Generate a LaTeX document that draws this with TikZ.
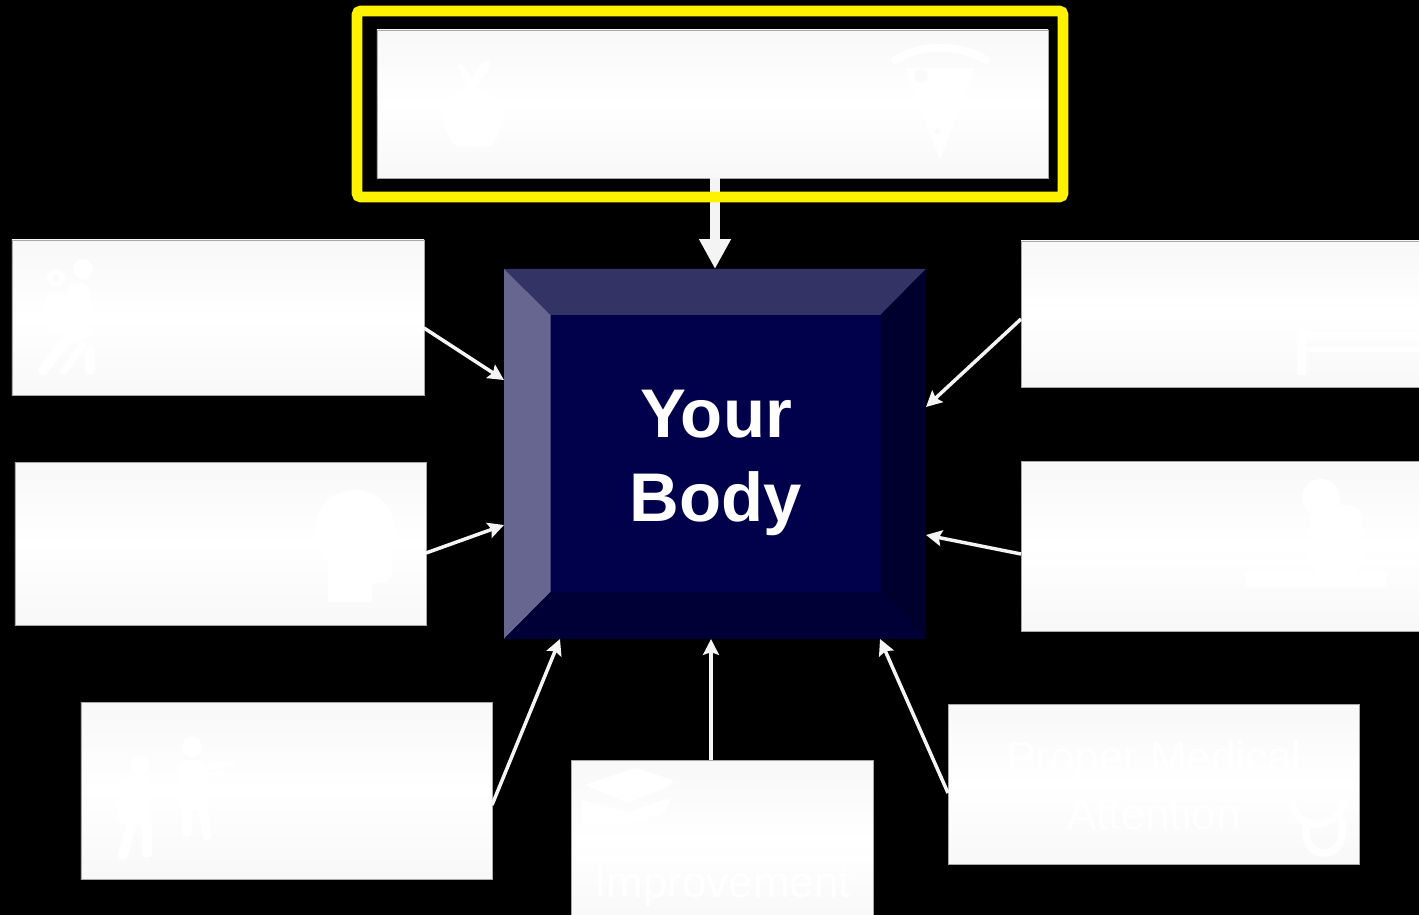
\documentclass[tikz,border=0pt]{standalone}
\usepackage{fontspec}
\setmainfont{Liberation Sans}
\usetikzlibrary{arrows.meta}
\definecolor{panelgrey}{HTML}{F8F8F8}
\definecolor{panelline}{HTML}{A8A8A8}
\definecolor{bodynavy}{HTML}{00004B}
\definecolor{bevtop}{HTML}{333366}
\definecolor{bevleft}{HTML}{666690}
\definecolor{bevright}{HTML}{00002E}
\definecolor{bevbottom}{HTML}{000036}
\definecolor{arrowgrey}{HTML}{F4F4F4}
\definecolor{iconhole}{HTML}{FAFAFA}
\tikzset{
  panel/.style={draw=panelline, line width=0.4pt, top color=panelgrey, bottom color=panelgrey, middle color=white, inner sep=0pt, outer sep=0pt},
  link/.style={arrowgrey, line width=2pt, -{Stealth[length=9pt,width=9pt,inset=1.5pt]}},
  biglink/.style={arrowgrey, line width=5.7pt, -{Triangle[length=17pt,width=17pt]}},
  iconfill/.style={fill=white},
  iconline/.style={draw=white, line cap=round, line width=2mm},
  facetext/.style={white, font=\fontsize{25}{32.3}\selectfont, inner sep=0pt, align=center}
}
\begin{document}
\begin{tikzpicture}[x=0.2mm, y=-0.2mm]
  \clip (0,0) rectangle (1419,915);
  \fill[black] (0,0) rectangle (1419,915);

  % Panels
  \node[panel, minimum width=134.2mm, minimum height=29.6mm] (diet) at (712.5,104) {};
  \node[panel, minimum width=82.4mm, minimum height=31mm] (walk) at (218,317.5) {};
  \node[panel, minimum width=82.2mm, minimum height=32.6mm] (mind) at (220.5,543.5) {};
  \node[panel, minimum width=82.2mm, minimum height=35.4mm] (people) at (286.5,790.5) {};
  \node[panel, minimum width=60.4mm, minimum height=33mm] (study) at (722,842.5) {};
  \node[panel, minimum width=82.2mm, minimum height=32mm] (medic) at (1153.5,784) {};
  \node[panel, minimum width=80.8mm, minimum height=34mm] (rest) at (1223,546) {};
  \node[panel, minimum width=80.8mm, minimum height=29.2mm] (sleep) at (1223,314) {};

  % Icons
  \fill[iconfill] (473,118) ellipse (30 and 29);
  \fill[iconfill] (462,134) circle (13);
  \fill[iconfill] (485,134) circle (13);
  \fill[iconfill] (457,66) -- (461,63) -- (472,78) -- (482,63) -- (490,60) -- (488,72) -- (474,90) -- (468,90) -- cycle;
  \draw[iconline, line width=1.6mm] (895,60) .. controls (920,44) and (960,44) .. (986,60);
  \fill[iconfill] (905,68) -- (975,68) -- (940,160) -- cycle;
  \fill[iconhole] (921,76) circle (7);
  \fill[iconhole] (937,131) circle (3);

  \fill[iconfill] (83,269) circle (10);
  \fill[iconfill] (56,278) circle (9);
  \fill[iconhole] (56,278) circle (3);
  \fill[iconfill, rounded corners=5] (68,283) rectangle (90,340);
  \fill[iconfill, rounded corners=5] (46,292) rectangle (68,335);
  \draw[iconline] (68,338) -- (43,370);
  \draw[iconline, line width=1.4mm] (83,345) -- (64,371);
  \draw[iconline] (90,350) -- (90,370);

  \fill[iconfill] (355,530) circle (40);
  \fill[iconfill, rounded corners=6] (328,540) rectangle (392,583);
  \fill[iconfill] (328,540) rectangle (372,602);

  \fill[iconfill] (192,747) circle (10);
  \fill[iconfill] (140,765) circle (10);
  \fill[iconfill, rounded corners=5] (178,760) rectangle (207,810);
  \fill[iconfill, rounded corners=5] (118,777) rectangle (150,825);
  \draw[iconline] (187,800) -- (187,832);
  \draw[iconline] (202,800) -- (207,835);
  \draw[iconline, line width=1.2mm] (205,768) -- (233,763);
  \draw[iconline] (131,825) -- (123,855);
  \draw[iconline] (147,825) -- (147,853);

  \fill[iconfill] (635,768) -- (673,780) -- (670,786) -- (628,803) -- (585,785) -- cycle;
  \fill[iconfill] (582,800) -- (628,812) -- (672,797) -- (665,812) -- (628,826) -- (582,823) -- cycle;

  \draw[iconline, line width=1.5mm] (1292,800) .. controls (1295,832) and (1335,832) .. (1345,802);
  \draw[iconline, line width=1.5mm] (1306,826) -- (1306,835) arc[start angle=180, end angle=0, radius=18] -- (1342,820);

  \fill[iconfill] (1321,498) circle (19);
  \fill[iconfill, rounded corners=8] (1310,505) rectangle (1362,575);
  \fill[iconfill] (1245,573) rectangle (1387,587);

  \fill[iconfill] (1297,330) rectangle (1306,375);
  \fill[iconfill] (1297,332) rectangle (1419,338);
  \fill[iconfill] (1297,347) rectangle (1419,352);

  % Centre block
  \node[fill=bodynavy, inner sep=0pt, outer sep=0pt, minimum width=84.4mm, minimum height=74mm] (body) at (715,454) {};
  \node[fill=bodynavy, inner sep=0pt, outer sep=0pt, minimum width=66mm, minimum height=55.4mm] (face) at (715.5,453.5) {};
  \fill[bevtop] (body.north west) -- (body.north east) -- (face.north east) -- (face.north west) -- cycle;
  \fill[bevleft] (body.north west) -- (face.north west) -- (face.south west) -- (body.south west) -- cycle;
  \fill[bevright] (body.north east) -- (face.north east) -- (face.south east) -- (body.south east) -- cycle;
  \fill[bevbottom] (body.south west) -- (face.south west) -- (face.south east) -- (body.south east) -- cycle;
  \node[white, inner sep=0pt, align=center, font=\fontsize{39.2}{47.6}\selectfont\bfseries] (bodytext) at (716,463) {Your\\Body};

  % Texts in the panels
  \node[facetext, anchor=base] (studytext) at (722.5,897) {Improvement};
  \node[facetext] (medictext) at (1154,785) {Proper Medical\\Attention};

  % Connectors
  \draw[biglink] (body.north |- diet.south) -- (body.north);
  \draw[link] (walk.east |- 0,328) -- (body.west |- 0,380);
  \draw[link] (mind.east |- 0,553) -- (body.west |- 0,525);
  \draw[link] (people.east |- 0,805) -- (560,0 |- body.south);
  \draw[link] (711,0 |- study.north) -- (711,0 |- body.south);
  \draw[link] (medic.west |- 0,793) -- (880,0 |- body.south);
  \draw[link] (rest.west |- 0,554) -- (body.east |- 0,535);
  \draw[link] (sleep.west |- 0,319) -- (body.east |- 0,407);

  % Highlight round the top panel
  \draw[yellow, line width=6pt, rounded corners=2pt] (357,11) rectangle (1063,197);
\end{tikzpicture}
\end{document}
